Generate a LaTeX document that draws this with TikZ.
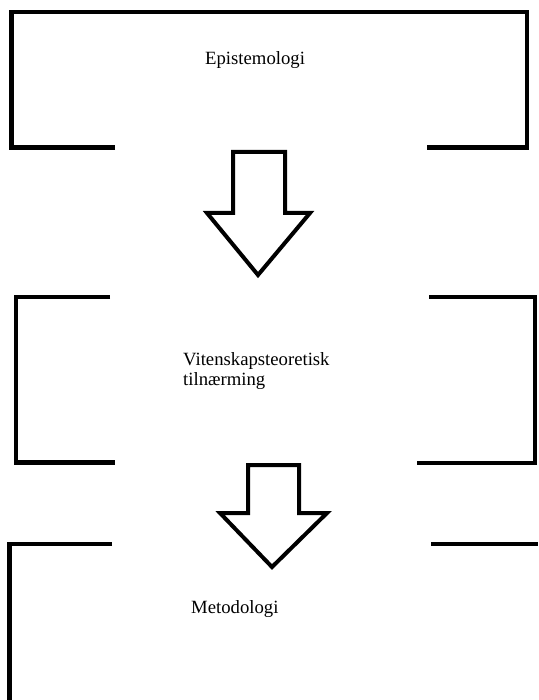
\documentclass[tikz,border=0pt]{standalone}
\usepackage{fontspec}
\setmainfont{Liberation Serif}
\usetikzlibrary{calc}

\begin{document}
\begin{tikzpicture}[x=1pt, y=-1pt,
bracket/.style={line width=4.5pt, line cap=butt, line join=miter},
blockarrow/.style={line width=4pt, line join=miter, fill=white},
label/.style={anchor=base west, inner sep=0pt, align=left, font=\fontsize{18.7}{20}\selectfont}]

\useasboundingbox (0,0) rectangle (538,700);

% top box
\draw[bracket] (115,147.5) -- (11.5,147.5) -- (11.5,12) -- (527,12) -- (527,147.5) -- (427,147.5);
\node[label] (epist) at (205,65) {Epistemologi};

\coordinate (arr1) at (259,152);
\draw[blockarrow] ($(arr1)+(-26,0)$) -- ($(arr1)+(26,0)$) -- ($(arr1)+(26,61)$) -- ($(arr1)+(51,61)$)
  -- ($(arr1)+(-1,123)$) -- ($(arr1)+(-52,61)$) -- ($(arr1)+(-26,61)$) -- cycle;

% middle brackets
\draw[bracket] (110,297) -- (16,297) -- (16,462.5) -- (115,462.5);
\draw[bracket] (429,297) -- (535,297) -- (535,463) -- (417,463);
\node[label] (viten) at (183,385) {Vitenskapsteoretisk\\tilnærming};

\coordinate (arr2) at (273.5,465);
\draw[blockarrow] ($(arr2)+(-25.5,0)$) -- ($(arr2)+(25.5,0)$) -- ($(arr2)+(25.5,48)$) -- ($(arr2)+(53.5,48)$)
  -- ($(arr2)+(-1.5,102)$) -- ($(arr2)+(-53.5,48)$) -- ($(arr2)+(-25.5,48)$) -- cycle;

% bottom
\draw[bracket] (112,544) -- (9.5,544) -- (9.5,700);
\draw[bracket] (431,544) -- (538,544);
\node[label] (metod) at (191,613) {Metodologi};

\end{tikzpicture}
\end{document}
